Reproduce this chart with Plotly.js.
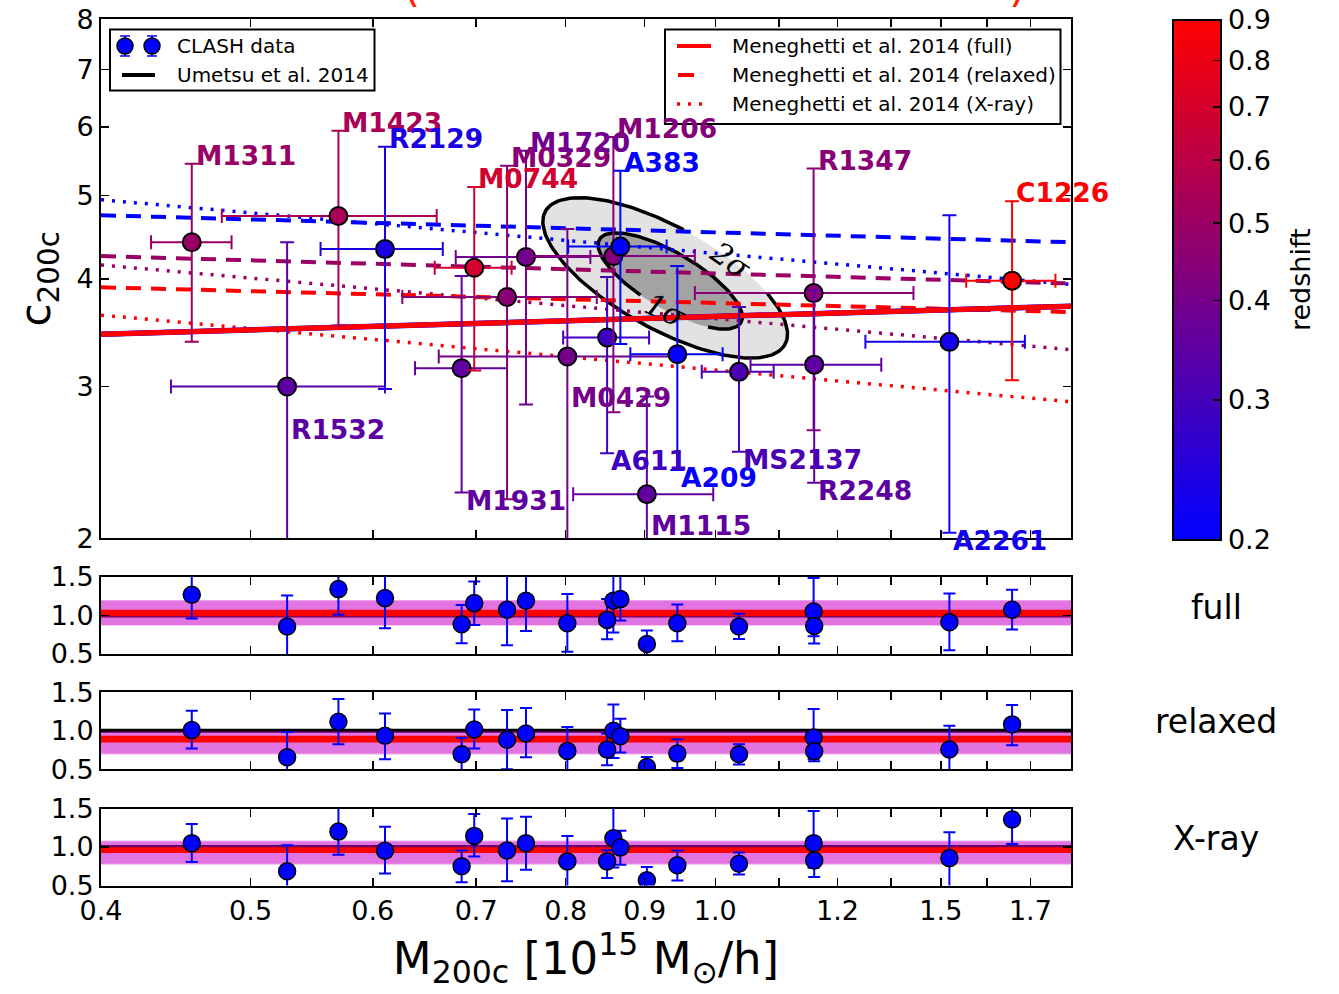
<!DOCTYPE html>
<html><head><meta charset="utf-8">
<script src="https://cdn.plot.ly/plotly-3.0.1.min.js"></script>
<style>html,body{margin:0;padding:0;background:#fff}#chart{width:1339px;height:994px}</style>
</head><body><div id="chart"></div>
<script>
// ---------------- data ----------------
const clusters = ['M1311','R1532','M1423','R2129','M1931','M0744','M0329','M1720','M0429','A611','M1206','A383','M1115','A209','MS2137','R1347','R2248','A2261','C1226'];
const redshift = [0.494,0.345,0.545,0.234,0.352,0.686,0.450,0.387,0.399,0.288,0.439,0.187,0.355,0.206,0.313,0.451,0.348,0.224,0.890];
const mass     = [0.458,0.528,0.570,0.611,0.685,0.698,0.733,0.754,0.802,0.851,0.859,0.868,0.903,0.945,1.036,1.158,1.159,1.418,1.557];
const massLow  = [0.431,0.444,0.479,0.555,0.639,0.658,0.627,0.679,0.662,0.797,0.760,0.803,0.809,0.881,0.980,0.970,1.054,1.251,1.454];
const massHigh = [0.486,0.611,0.660,0.666,0.733,0.738,0.838,0.830,0.944,0.906,0.970,0.930,0.997,1.011,1.091,1.344,1.281,1.587,1.661];
const conc     = [4.41,3.00,4.73,4.33,3.15,4.12,3.81,4.24,3.25,3.42,4.25,4.36,2.25,3.27,3.12,3.85,3.18,3.38,3.98];
const concLow  = [3.38,1.80,3.53,2.98,2.26,3.13,2.22,2.86,1.80,2.51,2.80,3.36,1.80,2.40,2.52,2.67,2.32,2.03,3.05];
const concHigh = [5.44,4.41,5.94,5.69,4.03,5.11,5.41,5.63,4.57,4.02,5.84,5.34,2.92,4.14,3.71,5.37,3.88,4.74,4.92];
const labelSide = ['up','down','up','up','down','up','up','up','down','down','up','up','down','down','down','up','down','down','up'];
const labelAt = {R1532: 2.73, M0429: 2.97, M1115: 2.11};

// ratio panels: c_obs / c_model
const ratioFull      = [1.27,0.857,1.343,1.226,0.887,1.161,1.074,1.191,0.90,0.943,1.191,1.213,0.63,0.90,0.857,1.052,0.865,0.913,1.074];
const ratioFullLow   = [0.96,0.40,1.009,0.835,0.639,0.878,0.613,0.80,0.53,0.691,0.778,0.935,0.40,0.665,0.696,0.73,0.635,0.548,0.817];
const ratioFullHigh  = [1.60,1.26,1.70,1.62,1.135,1.443,1.55,1.58,1.278,1.213,1.64,1.52,0.804,1.143,1.022,1.487,1.06,1.287,1.335];
const ratioRelax     = [1.009,0.657,1.117,0.935,0.696,1.017,0.883,0.965,0.739,0.757,1.0,0.93,0.53,0.704,0.696,0.913,0.735,0.757,1.083];
const ratioRelaxLow  = [0.770,0.30,0.826,0.630,0.45,0.770,0.50,0.657,0.40,0.552,0.648,0.717,0.35,0.517,0.561,0.63,0.604,0.40,0.813];
const ratioRelaxHigh = [1.261,0.983,1.413,1.226,0.909,1.278,1.270,1.296,1.048,0.965,1.343,1.157,0.661,0.891,0.826,1.283,0.90,1.065,1.335];
const ratioXray      = [1.05,0.685,1.20,0.951,0.749,1.144,0.955,1.05,0.813,0.813,1.114,0.994,0.569,0.762,0.783,1.05,0.826,0.856,1.358];
const ratioXrayLow   = [0.805,0.35,0.899,0.655,0.543,0.878,0.556,0.706,0.40,0.596,0.733,0.77,0.40,0.564,0.642,0.73,0.612,0.45,1.04];
const ratioXrayHigh  = [1.30,1.024,1.55,1.264,0.955,1.427,1.371,1.393,1.144,0.957,1.53,1.212,0.74,0.955,0.929,1.466,1.0,1.191,1.60];

// model relations (Meneghetti et al. 2014), c200c at the ends of the mass range
const lineMass = [0.4, 1.7];
const menFull        = [3.449, 3.718];
const menRelaxedLowZ = [4.74, 4.41];
const menRelaxedMidZ = [4.25, 3.95];
const menRelaxedHiZ  = [3.91, 3.66];
const menXrayLowZ    = [4.94, 3.94];
const menXrayMidZ    = [4.15, 3.31];
const menXrayHiZ     = [3.63, 2.88];
const lineRedshift   = [0.2, 0.5, 0.9];

// Umetsu et al. 2014 confidence ellipses in log10(M), log10(c)
const ellipse2 = {centre:[Math.log10(0.928), Math.log10(4.01)], v1:[0.0776,-0.0773], v2:[-0.0161,-0.0517], gap:[268,315], label:'2σ', labelT:291, angle:35};
const ellipse1 = {centre:[Math.log10(0.935), Math.log10(3.977)], v1:[0.0458,-0.0483], v2:[-0.0092,-0.0280], gap:[47,103], label:'1σ', labelT:82, angle:25};

// ratio panel bands
const panelNames     = ['full','relaxed','X-ray'];
const innerBandLow   = [0.990, 0.848, 0.921];
const innerBandHigh  = [1.074, 0.935, 0.998];
const outerBandLow   = [0.878, 0.704, 0.783];
const outerBandHigh  = [1.19, 0.987, 1.071];
const unity = 1.0;

// axes ticks
const xTickVals = [0.4,0.5,0.6,0.7,0.8,0.9,1.0,1.2,1.4,1.6];
const xTickText = ['0.4','0.5','0.6','0.7','0.8','0.9','1.0','1.2','1.5','1.7'];
const xMinorVals = [1.1,1.3,1.5];
const yTickVals = [2,3,4,5,6,7,8];
const rTickVals = [0.5,1.0,1.5];
const cbTickVals = [0.2,0.3,0.4,0.5,0.6,0.7,0.8,0.9];

// ---------------- build figure ----------------
const W = 1339, H = 994;
const FONT = 'DejaVu Sans';
const cmin = Math.log10(0.2), cmax = Math.log10(0.9);
function zColor(z){
  let t = (Math.log10(z)-cmin)/(cmax-cmin); t = Math.max(0, Math.min(1, t));
  return 'rgb(' + Math.round(255*t) + ',0,' + Math.round(255*(1-t)) + ')';
}
const PX = x => x / W, PY = y => 1 - y / H;
const xDom = [PX(101), PX(1071)];

const data = [];

// ellipses
function ellPts(e, t0, t1){
  const xs=[], ys=[];
  for(let t=t0; t<=t1+0.001; t+=2){
    const r = t*Math.PI/180;
    const lx = e.centre[0] + Math.cos(r)*e.v1[0] + Math.sin(r)*e.v2[0];
    const ly = e.centre[1] + Math.cos(r)*e.v1[1] + Math.sin(r)*e.v2[1];
    xs.push(Math.pow(10,lx)); ys.push(Math.pow(10,ly));
  }
  return {xs, ys};
}
[[ellipse2,'#e2e2e2'],[ellipse1,'#a3a3a3']].forEach(([e,col])=>{
  const p = ellPts(e,0,360);
  data.push({type:'scatter', x:p.xs, y:p.ys, mode:'lines', fill:'toself', fillcolor:col, line:{width:0, color:col}, hoverinfo:'skip', xaxis:'x', yaxis:'y'});
});
[ellipse2, ellipse1].forEach(e=>{
  const p = ellPts(e, e.gap[1], e.gap[0]+360);
  data.push({type:'scatter', x:p.xs, y:p.ys, mode:'lines', line:{width:3.5, color:'black'}, hoverinfo:'skip', xaxis:'x', yaxis:'y'});
});

// model lines
const lineDefs = [
  [menXrayLowZ, 0, '3px,8px', 3.5], [menXrayMidZ, 1, '3px,8px', 3.5], [menXrayHiZ, 2, '3px,8px', 3.5],
  [menRelaxedLowZ, 0, '15px,10px', 4], [menRelaxedMidZ, 1, '15px,10px', 4], [menRelaxedHiZ, 2, '15px,10px', 4],
  [menFull, 0, 'solid', 5.5], [menFull, 1, 'solid', 5], [menFull, 2, 'solid', 5]
];
lineDefs.forEach(([vals, zi, dash, w])=>{
  data.push({type:'scatter', x:lineMass, y:vals, mode:'lines', line:{color:zColor(lineRedshift[zi]), dash:dash, width:w}, hoverinfo:'skip', xaxis:'x', yaxis:'y'});
});

// clusters
clusters.forEach((name,i)=>{
  const col = zColor(redshift[i]);
  data.push({
    type:'scatter', mode:'markers', x:[mass[i]], y:[conc[i]], xaxis:'x', yaxis:'y', name:name,
    marker:{color:[Math.log10(redshift[i])], coloraxis:'coloraxis', size:18, line:{color:'black', width:2}},
    error_x:{type:'data', symmetric:false, array:[massHigh[i]-mass[i]], arrayminus:[mass[i]-massLow[i]], color:col, thickness:2, width:7},
    error_y:{type:'data', symmetric:false, array:[concHigh[i]-conc[i]], arrayminus:[conc[i]-concLow[i]], color:col, thickness:2, width:7}
  });
});

// ratio panels
const ratioSets = [[ratioFull,ratioFullLow,ratioFullHigh],[ratioRelax,ratioRelaxLow,ratioRelaxHigh],[ratioXray,ratioXrayLow,ratioXrayHigh]];
ratioSets.forEach(([v,lo,hi],k)=>{
  data.push({
    type:'scatter', mode:'markers', x:mass, y:v, xaxis:'x'+(k+2), yaxis:'y'+(k+2),
    marker:{color:'#0000ff', size:17, line:{color:'black', width:1.5}},
    error_y:{type:'data', symmetric:false, array:v.map((d,j)=>hi[j]-d), arrayminus:v.map((d,j)=>d-lo[j]), color:'#0000ff', thickness:2, width:6}
  });
});

// dummy colorbar carrier
data.push({type:'scatter', mode:'markers', x:[mass[0]], y:[conc[0]], xaxis:'x', yaxis:'y', marker:{color:[Math.log10(redshift[0])], coloraxis:'coloraxis', size:0.1, opacity:0}, hoverinfo:'skip'});

// axes
const axCommon = {showline:true, linecolor:'black', linewidth:2, mirror:'ticks', ticks:'inside', ticklen:8, tickwidth:1.5, tickcolor:'black', showgrid:false, zeroline:false, automargin:false, tickfont:{family:FONT, size:27, color:'black'}};
const xCommon = {domain:xDom, type:'log', range:[Math.log10(0.4), Math.log10(1.7)], tickmode:'array', tickvals:xTickVals, ticktext:xTickText,
  minor:{tickmode:'array', tickvals:xMinorVals, ticks:'inside', ticklen:8, tickwidth:1.5, tickcolor:'black', showgrid:false}};
const layout = {
  width:W, height:H, margin:{l:0,r:0,t:0,b:0}, paper_bgcolor:'white', plot_bgcolor:'white', showlegend:false,
  font:{family:FONT, color:'black'},
  xaxis:Object.assign({}, axCommon, xCommon, {anchor:'y', showticklabels:false}),
  yaxis:Object.assign({}, axCommon, {domain:[PY(538.3), PY(19.3)], type:'log', range:[Math.log10(2), Math.log10(8)], anchor:'x', tickmode:'array', tickvals:yTickVals, ticktext:yTickVals.map(String),
         title:{text:'c<sub>200c</sub>', font:{size:42, family:FONT}, standoff:13}}),
  coloraxis:{colorscale:[[0,'rgb(0,0,255)'],[1,'rgb(255,0,0)']], cmin:cmin, cmax:cmax,
    colorbar:{x:PX(1173), xanchor:'left', y:PY(20), yanchor:'top', len:520, lenmode:'pixels', thickness:48, thicknessmode:'pixels',
      xpad:0, ypad:0, outlinewidth:2, outlinecolor:'black', tickmode:'array', tickvals:cbTickVals.map(Math.log10), ticktext:cbTickVals.map(v=>v.toFixed(1)),
      ticks:'inside', ticklen:9, tickwidth:1.5, tickcolor:'black', tickfont:{size:27, family:FONT, color:'black'}}}
};
const panelTops = [577, 692.3, 808.5];
panelTops.forEach((top,k)=>{
  const n = k+2;
  layout['xaxis'+n] = Object.assign({}, axCommon, xCommon, {anchor:'y'+n, matches:'x', showticklabels:(k===2)});
  layout['yaxis'+n] = Object.assign({}, axCommon, {domain:[PY(top+77), PY(top)], range:[0.5,1.5], anchor:'x'+n, tickmode:'array', tickvals:rTickVals, ticktext:rTickVals.map(v=>v.toFixed(1))});
});
layout.xaxis4.title = {text:'M<sub>200c</sub> [10<sup>15</sup> M<sub>⊙</sub>/h]', font:{size:45, family:FONT}, standoff:17};

// shapes: ratio bands + legends
const shapes = [];
panelNames.forEach((nm,k)=>{
  const n = k+2;
  shapes.push({type:'line', xref:'x'+n+' domain', yref:'y'+n, x0:0, x1:1, y0:unity, y1:unity, line:{color:'black', width:4}, layer:'below'});
  shapes.push({type:'rect', xref:'x'+n+' domain', yref:'y'+n, x0:0, x1:1, y0:outerBandLow[k]-0.012, y1:outerBandHigh[k]+0.012, fillcolor:'rgba(200,0,200,0.3)', line:{width:0}, layer:'below'});
  shapes.push({type:'rect', xref:'x'+n+' domain', yref:'y'+n, x0:0, x1:1, y0:outerBandLow[k], y1:outerBandHigh[k], fillcolor:'rgba(200,0,200,0.35)', line:{width:0}, layer:'below'});
  shapes.push({type:'rect', xref:'x'+n+' domain', yref:'y'+n, x0:0, x1:1, y0:innerBandLow[k], y1:innerBandHigh[k], fillcolor:'rgba(255,0,0,1)', line:{width:0}, layer:'below'});
});
function boxShape(x0,y0,x1,y1){ return {type:'rect', xref:'paper', yref:'paper', x0:PX(x0), x1:PX(x1), y0:PY(y1), y1:PY(y0), fillcolor:'white', line:{color:'black', width:2}}; }
function lineShape(x0,y0,x1,y1,col,w,dash){ return {type:'line', xref:'paper', yref:'paper', x0:PX(x0), x1:PX(x1), y0:PY(y0), y1:PY(y1), line:{color:col, width:w, dash:dash||'solid'}}; }
shapes.push(boxShape(110,29.5,374.5,90.5));
shapes.push(boxShape(665,29.5,1060.5,124));
[125,152].forEach(cx=>{
  shapes.push(lineShape(cx,36,cx,56,'#0000ff',1.5));
  shapes.push(lineShape(cx-5,36,cx+5,36,'#0000ff',1.5));
  shapes.push(lineShape(cx-5,56,cx+5,56,'#0000ff',1.5));
  shapes.push({type:'circle', xref:'paper', yref:'paper', x0:PX(cx-8), x1:PX(cx+8), y0:PY(54), y1:PY(38), fillcolor:'#0000ff', line:{color:'black', width:1.5}});
});
shapes.push(lineShape(122,75,155,75,'black',4));
shapes.push(lineShape(677,46,711,46,'#ff0000',4));
shapes.push(lineShape(678,75,694,75,'#ff0000',4));
shapes.push(lineShape(677,104,704,104,'#ff0000',3.5,'3px,8px'));
layout.shapes = shapes;

// annotations
const ann = [];
clusters.forEach((name,i)=>{
  const up = labelSide[i]==='up';
  const at = labelAt[name] !== undefined ? labelAt[name] : (up ? concHigh[i] : concLow[i]);
  ann.push({xref:'x', yref:'y', x:Math.log10(mass[i]), y:Math.log10(at), text:'<b>'+name+'</b>', showarrow:false,
    xanchor:'left', yanchor: up ? 'bottom' : 'top', xshift:2, yshift: up ? -9 : 10,
    font:{family:FONT, size:26.5, color:zColor(redshift[i])}});
});
[ellipse2, ellipse1].forEach(e=>{
  const r = e.labelT*Math.PI/180;
  ann.push({xref:'x', yref:'y', x:e.centre[0]+Math.cos(r)*e.v1[0]+Math.sin(r)*e.v2[0], y:e.centre[1]+Math.cos(r)*e.v1[1]+Math.sin(r)*e.v2[1],
    text:e.label, showarrow:false, textangle:e.angle, font:{family:'DejaVu Serif', size:30, style:'italic', color:'black'}});
});
const legTxt = [['CLASH data',175,46],['Umetsu et al. 2014',175,75],['Meneghetti et al. 2014 (full)',730,46],['Meneghetti et al. 2014 (relaxed)',730,75],['Meneghetti et al. 2014 (X-ray)',730,104]];
legTxt.forEach(([t,x,y])=>ann.push({xref:'paper', yref:'paper', x:PX(x), y:PY(y), text:t, showarrow:false, xanchor:'left', yanchor:'middle', font:{family:FONT, size:20, color:'black'}}));
const panelLabelY = [607, 721, 838];
panelNames.forEach((nm,k)=>ann.push({xref:'paper', yref:'paper', x:PX(1216), y:PY(panelLabelY[k]), text:nm, showarrow:false, xanchor:'center', yanchor:'middle', font:{family:FONT, size:33, color:'black'}}));
ann.push({xref:'paper', yref:'paper', x:PX(1300), y:PY(280), text:'redshift', showarrow:false, textangle:-90, xanchor:'center', yanchor:'middle', font:{family:FONT, size:27, color:'black'}});
ann.push({xref:'paper', yref:'paper', x:PX(411), y:PY(13), text:'(', showarrow:false, xanchor:'center', yanchor:'bottom', font:{family:FONT, size:44, color:'#ff2200'}});
ann.push({xref:'paper', yref:'paper', x:PX(1018), y:PY(13), text:')', showarrow:false, xanchor:'center', yanchor:'bottom', font:{family:FONT, size:44, color:'#ff2200'}});
layout.annotations = ann;

Plotly.newPlot('chart', data, layout, {displayModeBar:false, staticPlot:true});
</script></body></html>
